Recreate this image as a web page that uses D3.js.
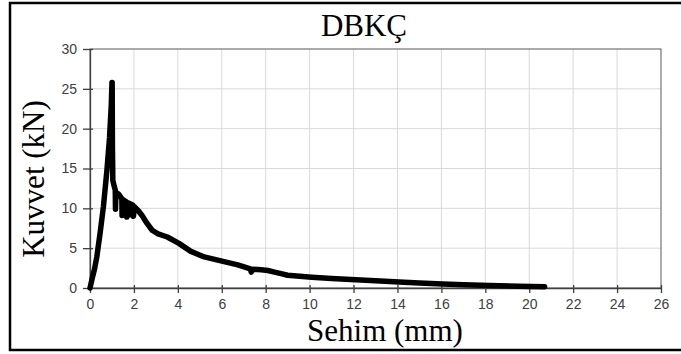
<!DOCTYPE html>
<html><head><meta charset="utf-8">
<script src="https://cdn.jsdelivr.net/npm/d3@7"></script>
<style>html,body{margin:0;padding:0;background:#fff;overflow:hidden}</style>
</head><body>
<svg id="c" width="681" height="354"></svg>
<script>
const titleText = "DBKÇ";
const xLabel = "Sehim (mm)";
const yLabel = "Kuvvet (kN)";
const xTicks = [0,2,4,6,8,10,12,14,16,18,20,22,24,26];
const yTicks = [0,5,10,15,20,25,30];
const deflection = [0,0.1,0.2,0.31,0.46,0.61,0.77,0.89,0.97,1.0,1.01,1.02,1.04,1.1,1.15,1.16,1.18,1.3,1.35,1.45,1.46,1.5,1.6,1.66,1.68,1.72,1.82,1.85,1.88,1.96,1.98,2.02,2.2,2.37,2.6,2.83,3.1,3.52,4.05,4.59,5.2,5.96,6.73,7.3,7.34,7.4,7.8,8.1,8.4,8.7,9.0,10.1,11,12.1,13,14.07,15,16.05,17,18.2,19.5,20.7];
const force = [0,1.2,2.3,3.9,6.9,10.2,14.75,18.9,23,25.8,25.8,18,13.5,12.8,12.3,9.9,12.0,11.8,11.6,11.2,9.1,11.1,10.9,10.8,8.9,10.7,10.6,9.2,10.5,10.4,9.0,10.2,9.7,9.1,8.1,7.25,6.8,6.4,5.6,4.6,3.9,3.4,2.9,2.4,2.0,2.35,2.3,2.2,2.0,1.8,1.6,1.35,1.2,1.05,0.9,0.75,0.62,0.5,0.4,0.3,0.22,0.15];

const svg = d3.select("#c");
const L = 90, R = 661, T = 49, B = 288;
const x = d3.scaleLinear().domain([0,26]).range([L,R]);
const y = d3.scaleLinear().domain([0,30]).range([B,T]);

svg.append("rect").attr("x",10).attr("y",3).attr("width",690).attr("height",347)
  .attr("fill","none").attr("stroke","#000").attr("stroke-width",2.5);

svg.append("g").selectAll("line").data(xTicks.slice(1,-1)).join("line")
  .attr("x1",d=>x(d)).attr("x2",d=>x(d)).attr("y1",T).attr("y2",B)
  .attr("stroke","#d9d9d9").attr("stroke-width",1);
svg.append("g").selectAll("line").data(yTicks.slice(1,-1)).join("line")
  .attr("y1",d=>y(d)).attr("y2",d=>y(d)).attr("x1",L).attr("x2",R)
  .attr("stroke","#d9d9d9").attr("stroke-width",1);

svg.append("rect").attr("x",L).attr("y",T).attr("width",R-L).attr("height",B-T)
  .attr("fill","none").attr("stroke","#595959").attr("stroke-width",1);

const xAxis = svg.append("g").attr("transform",`translate(0,${B})`)
  .call(d3.axisBottom(x).tickValues(xTicks).tickSizeInner(5).tickSizeOuter(0).tickPadding(6));
const yAxis = svg.append("g").attr("transform",`translate(${L},0)`)
  .call(d3.axisLeft(y).tickValues(yTicks).tickSizeInner(7).tickSizeOuter(0).tickPadding(6));
[xAxis,yAxis].forEach(g=>{
  g.select(".domain").attr("stroke","#404040").attr("stroke-width",1.3);
  g.selectAll(".tick line").attr("stroke","#404040").attr("stroke-width",1.3);
  g.selectAll(".tick text").attr("fill","#404040")
    .style("font-family","'Liberation Sans', Arial, sans-serif").style("font-size","14px");
});
xAxis.selectAll(".tick line").attr("y1",-3);
yAxis.selectAll(".tick line").attr("x1",3);

const pts = deflection.map((d,i)=>[d,force[i]]);
svg.append("path").datum(pts)
  .attr("d", d3.line().x(d=>x(d[0])).y(d=>y(d[1])))
  .attr("fill","none").attr("stroke","#000").attr("stroke-width",5.5)
  .attr("stroke-linejoin","round").attr("stroke-linecap","round");

const serif = "Liberation Serif";
svg.append("text").attr("x",364).attr("y",36).attr("text-anchor","middle")
  .attr("font-family",serif).attr("font-size",31).attr("fill","#000").text(titleText);
svg.append("text").attr("x",385).attr("y",341).attr("text-anchor","middle")
  .attr("font-family",serif).attr("font-size",31).attr("fill","#000").text(xLabel);
svg.append("text").attr("transform","translate(44,179) rotate(-90)").attr("text-anchor","middle")
  .attr("font-family",serif).attr("font-size",31).attr("fill","#000").text(yLabel);
</script>
</body></html>
